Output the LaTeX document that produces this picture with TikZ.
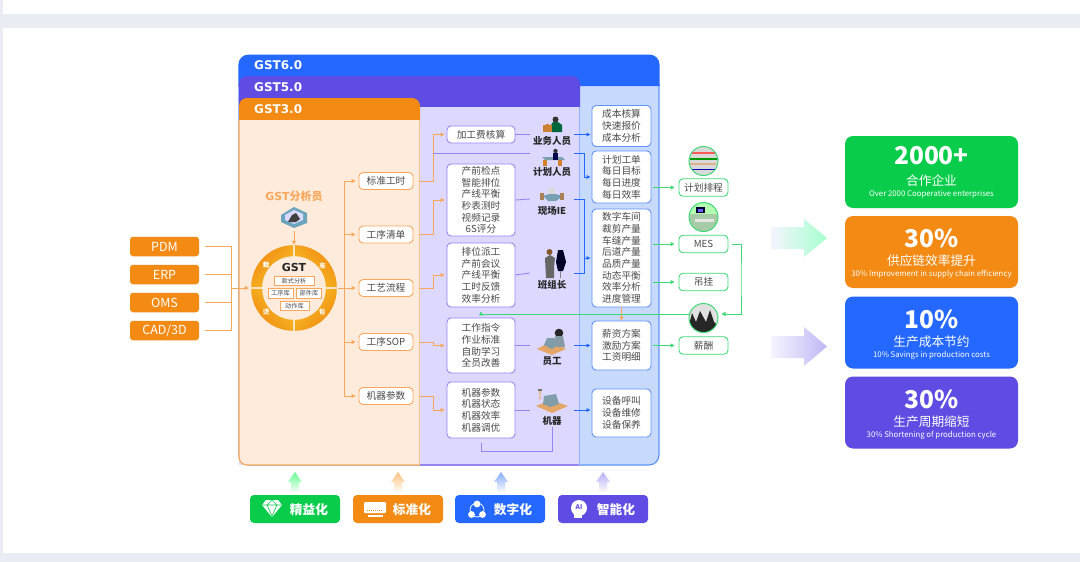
\documentclass[tikz,border=0pt]{standalone}
\usepackage{fontspec}
\setmainfont{Noto Sans CJK SC}
\newfontfamily\headfont{DejaVu Sans}
\usetikzlibrary{arrows.meta}
\definecolor{cblue}{HTML}{2468FF}
\definecolor{cpurple}{HTML}{5F4CE3}
\definecolor{corange}{HTML}{F28A14}
\definecolor{cgreen}{HTML}{09CC4B}
\definecolor{cyell}{HTML}{F5C325}
\definecolor{lblue}{HTML}{C7D9FD}
\definecolor{lpurple}{HTML}{DDD8FF}
\definecolor{lorange}{HTML}{FEEBDB}
\definecolor{eorange}{HTML}{F9A75A}
\definecolor{epurple}{HTML}{9585F5}
\definecolor{eblue}{HTML}{5E93FF}
\definecolor{egreen}{HTML}{3FD877}
\definecolor{cgrey}{HTML}{E9ECF2}
\definecolor{ctext}{HTML}{4A4A4A}
\newcommand{\cardtext}[4]{\rule{0pt}{#1}{\fontsize{24.5}{27}\selectfont\bfseries #2}\\[#3]{\fontsize{12.7}{14}\selectfont #4}}
\newcommand{\cardsub}[1]{\\[-1pt]{\fontsize{7.8}{9}\selectfont\color{white!75!.} #1}}
\begin{document}
\begin{tikzpicture}[x=1pt, y=-1pt]
\tikzstyle{tbox}=[shape=rectangle, rounded corners=4pt, draw, fill=white, text=ctext, line width=0.9pt, inner sep=0pt, align=center, font=\fontsize{9.7}{11.7}\selectfont]
\tikzstyle{obox}=[tbox, draw=eorange, minimum width=54pt, minimum height=17pt]
\tikzstyle{pbox}=[tbox, draw=epurple, minimum width=68pt]
\tikzstyle{bbox}=[tbox, draw=eblue, minimum width=59pt]
\tikzstyle{gbox}=[tbox, draw=egreen, minimum width=49pt, minimum height=17.5pt]
\tikzstyle{inbox}=[shape=rectangle, rounded corners=3pt, fill=corange, text=white, minimum width=69pt, minimum height=19.5pt, inner sep=0pt, font=\fontsize{12.5}{14}\selectfont]
\tikzstyle{libbox}=[shape=rectangle, draw=eorange, fill=white, text=ctext, line width=0.6pt, minimum height=9.5pt, inner sep=0pt, font=\fontsize{6.2}{7}\selectfont]
\tikzstyle{card}=[shape=rectangle, rounded corners=8pt, text=white, minimum width=173pt, minimum height=72pt, inner sep=0pt, align=center, font=\fontsize{10}{12}\selectfont]
\tikzstyle{badge}=[shape=rectangle, rounded corners=4pt, minimum width=90pt, minimum height=28pt, inner sep=0pt]
\tikzstyle{btext}=[text=white, inner sep=0pt, font=\fontsize{12.7}{14}\selectfont\bfseries]
\tikzstyle{head}=[text=white, inner sep=0pt, anchor=west, font=\fontsize{12}{13}\selectfont\headfont\bfseries]
\tikzstyle{who}=[text=black!85, inner sep=0pt, font=\fontsize{9.5}{11}\selectfont\bfseries]
\tikzstyle{hub}=[inner sep=0pt, minimum width=44pt, minimum height=2pt]
\tikzstyle{ringch}=[text=white, inner sep=0pt, font=\fontsize{6.5}{7}\selectfont\bfseries]
\tikzstyle{photo}=[shape=circle, draw=egreen, line width=1pt, minimum size=29pt, inner sep=0pt]
\tikzstyle{olink}=[draw=eorange, line width=0.9pt, -{Triangle[length=4pt,width=4pt]}]
\tikzstyle{plink}=[draw=epurple, line width=0.9pt]
\tikzstyle{blink}=[draw=cblue, line width=0.8pt, -{Triangle[length=4pt,width=3.6pt]}]
\tikzstyle{glink}=[draw=egreen, line width=0.9pt, -{Triangle[length=4pt,width=4pt]}]
\useasboundingbox (0,0) rectangle (1080,562);
\fill [cgrey] (0,0) rectangle (1080,562);
\fill [white] (3,0) rectangle (1080,14);
\fill [white] (3,28) rectangle (1080,553);

\draw [fill=lblue, draw=eblue, line width=1.2pt] (239,85) -- (659,85) [rounded corners=10pt] -- (659,465) -- (239,465) [sharp corners] -- cycle;
\fill [cblue] (238.4,86) [rounded corners=10pt] -- (238.4,54.6) -- (659.6,54.6) [sharp corners] -- (659.6,86) -- cycle;
\fill [cpurple] (239,108) [rounded corners=8pt] -- (239,76) -- (580,76) [sharp corners] -- (580,108) -- cycle;
\fill [lpurple] (239,107) rectangle (579.5,465);
\draw [eblue!70, line width=1pt] (579.5,107) -- (579.5,465);
\draw [epurple, line width=1.2pt] (420,465) -- (579,465);
\fill [corange] (239,120.5) [rounded corners=8pt] -- (239,98) -- (420,98) [sharp corners] -- (420,120.5) -- cycle;
\fill [lorange] (239,120) -- (419.5,120) -- (419.5,465) [rounded corners=8pt] -- (239,465) [sharp corners] -- cycle;
\draw [eorange!65, line width=1pt] (419.5,120) -- (419.5,465);
\draw [eorange, line width=1.2pt] (239,120) [rounded corners=8pt] -- (239,465) [sharp corners] -- (420,465);
\node [head] (G6) at (254,65) {GST6.0};
\node [head] (G5) at (254,87) {GST5.0};
\node [head] (G3) at (254,109) {GST3.0};

\node [inbox] (PDM) at (164.5,246.5) {PDM};
\node [inbox] (ERP) at (164.5,274.5) {ERP};
\node [inbox] (OMS) at (164.5,302.5) {OMS};
\node [inbox] (CAD) at (164.5,330.5) {CAD/3D};
\coordinate (INB) at (231,288);

\shade [left color=corange, right color=cyell, shading angle=45] (293.2,287.2) ++(180:42) arc (180:270:42) -- ++(0,11) arc (270:180:31) -- cycle;
\shade [left color=corange, right color=cyell, shading angle=-45] (294.8,287.2) ++(270:42) arc (270:360:42) -- ++(-11,0) arc (360:270:31) -- cycle;
\shade [left color=corange, right color=cyell, shading angle=-135] (294.8,288.8) ++(0:42) arc (0:90:42) -- ++(0,-11) arc (90:0:31) -- cycle;
\shade [left color=corange, right color=cyell, shading angle=135] (293.2,288.8) ++(90:42) arc (90:180:42) -- ++(11,0) arc (180:90:31) -- cycle;
\node [shape=circle, minimum size=84pt, inner sep=0pt] (RING) at (294,288) {};
\node [ringch] (CA) at (266,265.5) {裁};
\node [ringch] (CH) at (322.5,265.5) {车};
\node [ringch] (TA) at (266,312) {烫};
\node [ringch] (BA) at (322,312) {包};
\node [inner sep=0pt, font=\fontsize{11}{12}\selectfont\headfont\bfseries, text=black!85] (GT) at (294,267.5) {GST};
\node [libbox, minimum width=40pt] (KS) at (294,281) {款式分析};
\node [libbox, minimum width=25pt] (GX) at (280.5,293.5) {工序库};
\node [libbox, minimum width=25pt] (BJ) at (309,293.5) {部件库};
\node [libbox, minimum width=29pt] (DZ) at (294.5,306) {动作库};

\node [inner sep=0pt, text=eorange, font=\fontsize{11}{12}\selectfont\bfseries] (AN) at (294,196) {{\headfont GST}分析员};
\fill [cyan!45!gray] (281,215) -- (294,207) -- (307,213) -- (307,223) -- (294,228) -- (281,222) -- cycle;
\fill [white!85!blue] (285,215) -- (294,210) -- (303,214) -- (303,220) -- (294,224) -- (285,220) -- cycle;
\fill [black!75] (292,215) -- (296,213) -- (300,219) -- (296,222) -- (288,222) -- cycle;
\node [shape=rectangle, minimum width=26pt, minimum height=21pt, inner sep=0pt] (ANI) at (294,217.5) {};

\node [obox] (BZ) at (386,181) {标准工时};
\node [obox] (QD) at (386,234.5) {工序清单};
\node [obox] (LC) at (386,288) {工艺流程};
\node [obox] (SP) at (386,342) {工序SOP};
\node [obox] (CS) at (386,396) {机器参数};
\coordinate (BUS) at (344.5,288);
\coordinate (ELB) at (433,288);

\node [pbox, minimum height=17pt] (JG) at (481,134.5) {加工费核算};
\node [pbox, minimum height=72pt] (CQ) at (481,200) {产前检点\\智能排位\\产线平衡\\秒表测时\\视频记录\\6S评分};
\node [pbox, minimum height=64pt] (PW) at (481,275) {排位派工\\产前会议\\产线平衡\\工时反馈\\效率分析};
\node [pbox, minimum height=55pt] (ZL) at (481,345.5) {工作指令\\作业标准\\自助学习\\全员改善};
\node [pbox, minimum height=56pt] (JQ) at (481,410) {机器参数\\机器状态\\机器效率\\机器调优};

\node [hub] (YWH) at (552,134.5) {};
\node [hub] (JHH) at (552,153) {};
\node [hub] (XCH) at (552,199) {};
\node [hub] (BZH) at (552,273) {};
\node [hub] (YGH) at (552,345.5) {};
\node [hub] (MCH) at (552,410) {};
\node [who] (YW) at (552,141) {业务人员};
\node [who] (JH) at (552,171.5) {计划人员};
\node [who] (XC) at (552,211) {现场IE};
\node [who] (BZZ) at (552,285) {班组长};
\node [who] (YG) at (552,361) {员工};
\node [who] (MC) at (552,421) {机器};

\fill [black!60!blue!60!green] (551,125) -- (553,122) -- (558,122) -- (562,125) -- (562,132) -- (551,132) -- cycle;
\fill [black!80] (555.5,119.5) circle (3);
\fill [brown!80!orange] (543,125) rectangle (552,132);
\fill [brown!60!orange] (546,124) rectangle (549,125);
\fill [cyan!30!gray] (542,157) -- (562,157) -- (565,160) -- (545,160) -- cycle;
\fill [brown!70!orange] (543,160) rectangle (547,166);
\fill [brown!70!orange] (558,160) rectangle (562,166);
\fill [black!70!blue] (553,153) rectangle (558,160);
\fill [black!80] (555.5,151) circle (2.2);
\fill [cyan!35!gray] (543,196) -- (552,193) -- (563,196) -- (556,201) -- (548,201) -- cycle;
\fill [white!70!gray] (548,188) rectangle (555,194);
\fill [brown!60!gray] (540,193) rectangle (544,200);
\fill [brown!60!gray] (560,193) rectangle (564,200);
\fill [black!60] (550,255) -- (555,258) -- (554,267) -- (554,278) -- (546,278) -- (545,258) -- cycle;
\fill [brown!70!black] (549.5,252) circle (3);
\fill [black!85!blue] (558,250) -- (563,250) -- (566,262) -- (563,271) -- (558,271) -- (556,262) -- cycle;
\fill [gray] (560,271) rectangle (561,278);
\fill [orange!40!brown!70!white] (537,349) -- (552,341) -- (566,349) -- (552,355) -- cycle;
\fill [cyan!25!gray] (544,345) -- (547,338) -- (555,338) -- (558,345) -- (552,349) -- cycle;
\fill [black!85] (559,333) circle (4.3);
\fill [cyan!20!gray] (555,336) -- (563,336) -- (565,347) -- (557,347) -- cycle;
\fill [orange!40!brown!70!white] (536,406) -- (551,400) -- (568,406) -- (552,413) -- cycle;
\fill [cyan!25!gray] (543,404) -- (544,396) -- (556,394) -- (559,404) -- (550,407) -- cycle;
\fill [black!55] (538,389) rectangle (542,391);
\fill [brown!50!white] (538.5,391) -- (541.5,391) -- (540.5,396) -- (541.5,399) -- (538.5,399) -- (539.5,396) -- cycle;

\node [bbox, minimum height=41pt] (CB) at (621.5,126) {成本核算\\快速报价\\成本分析};
\node [bbox, minimum height=52pt] (GD) at (621.5,177) {计划工单\\每日目标\\每日进度\\每日效率};
\node [bbox, minimum height=98pt] (SZ) at (621.5,258) {数字车间\\裁剪产量\\车缝产量\\后道产量\\品质产量\\动态平衡\\效率分析\\进度管理};
\node [bbox, minimum height=49pt] (XZ) at (621.5,345.5) {薪资方案\\激励方案\\工资明细};
\node [bbox, minimum height=48pt] (SB) at (621.5,413) {设备呼叫\\设备维修\\设备保养};
\coordinate (BLA) at (584.5,200);

\node [gbox] (PC) at (703.5,187.5) {计划排程};
\node [gbox] (MES) at (703.5,244) {MES};
\node [gbox] (DG) at (703.5,282) {吊挂};
\node [gbox] (XC2) at (703.5,345.5) {薪酬};
\coordinate (GRA) at (741,280);
\coordinate (GFB) at (481,314);

\begin{scope}
\clip (703.5,161) circle (14.5);
\fill [black!15] (689,146) rectangle (718,176);
\fill [red!65] (692,152) rectangle (716,153.5);
\fill [green!60!black] (690,158) rectangle (718,159.5);
\fill [brown!60] (689,163) rectangle (716,164.5);
\fill [blue!70!black] (692,168.5) rectangle (716,170);
\end{scope}
\begin{scope}
\clip (703.5,217) circle (14.5);
\fill [green!25!gray!55] (689,202) rectangle (718,232);
\fill [white!70!green] (689,202) rectangle (718,214);
\fill [black!80!blue] (696,207) rectangle (705,213);
\fill [blue!60] (698,208.5) rectangle (703,211.5);
\fill [white!80!gray] (695,219) rectangle (714,222);
\end{scope}
\begin{scope}
\clip (703.5,318) circle (14.5);
\fill [black!12] (689,303) rectangle (718,333);
\fill [black!85] (689,325) -- (692,313) -- (696,322) -- (700,311) -- (706,322) -- (710,310) -- (714,322) -- (718,326) -- (710,333) -- (689,333) -- cycle;
\end{scope}
\node [photo] (P1) at (703.5,161) {};
\node [photo] (P2) at (703.5,217) {};
\node [photo] (P3) at (703.5,318) {};

\node [card, fill=cgreen] (C1) at (931.5,172) {\cardtext{1pt}{2000+}{9pt}{合作企业}\cardsub{Over 2000 Cooperative enterprises}};
\node [card, fill=corange] (C2) at (931.5,252) {\cardtext{22pt}{30\%}{6pt}{供应链效率提升}\cardsub{30\% Improvement in supply chain efficiency}};
\node [card, fill=cblue] (C3) at (931.5,332.5) {\cardtext{22pt}{10\%}{6pt}{生产成本节约}\cardsub{10\% Savings in production costs}};
\node [card, fill=cpurple] (C4) at (931.5,412.5) {\cardtext{22pt}{30\%}{6pt}{生产周期缩短}\cardsub{30\% Shortening of production cycle}};

\shade [left color=blue!4, right color=green!55!cyan!35!white] (771,227) -- (804,227) -- (804,219) -- (827,238) -- (804,257) -- (804,249) -- (771,249) -- cycle;
\shade [left color=blue!4, right color=cpurple!40] (771,336) -- (804,336) -- (804,327) -- (827,346.5) -- (804,366) -- (804,358) -- (771,358) -- cycle;

\foreach \X/\C in {295/green!70!cyan!60, 398/orange!50, 501/cblue!55, 603/cpurple!45}
  \shade [top color=\C, bottom color=white] (\X-4,493) -- (\X-4,482) -- (\X-7,482) -- (\X,472) -- (\X+7,482) -- (\X+4,482) -- (\X+4,493) -- cycle;

\node [badge, fill=cgreen] (JY) at (295,509) {};
\node [badge, fill=corange] (BH) at (398,509) {};
\node [badge, fill=cblue] (SH) at (500,509) {};
\node [badge, fill=cpurple] (ZN) at (603,509) {};
\node [btext] (JYT) at (309,509.5) {精益化};
\node [btext] (BHT) at (412,509.5) {标准化};
\node [btext] (SHT) at (513,509.5) {数字化};
\node [btext] (ZNT) at (616,509.5) {智能化};

\fill [white] (266,500) -- (278,500) -- (282,505) -- (272,517) -- (262,505) -- cycle;
\draw [cgreen, line width=0.6pt] (262,505) -- (282,505) (267,505) -- (272,516) -- (277,505) -- (272,500) -- (267,505);
\fill [white, rounded corners=1pt] (364,502) rectangle (386,513);
\fill [white] (368,515) rectangle (383,516.5);
\draw [corange, line width=1pt, dash pattern=on 1pt off 1pt] (367,510) -- (383,510);
\draw [white, line width=0.7pt] (477,510) circle (7);
\fill [white] (477,504) circle (3.4);
\fill [white] (471.5,514.5) circle (3.4);
\fill [white] (482.5,514.5) circle (3.4);
\fill [white] (579,508) circle (8);
\fill [white] (574,512) rectangle (582,518);
\node [inner sep=0pt, text=cpurple, font=\fontsize{6.5}{7}\selectfont\bfseries] (AI) at (579,507.5) {AI};

\draw [olink, -, shorten <=6pt] (PDM.east) -| (INB);
\draw [olink, -, shorten <=6pt] (ERP.east) -| (INB);
\draw [olink, -, shorten <=6pt] (OMS.east) -| (INB);
\draw [olink, -, shorten <=6pt] (CAD.east) -| (INB);
\draw [olink, shorten >=3pt] (INB) to (RING.west);
\draw [olink, shorten <=3pt, shorten >=1pt] (ANI.south) to (RING.north);
\draw [olink, shorten <=2pt, shorten >=3pt] (RING.east) to (LC.west);
\draw [olink, shorten >=3pt] (BUS) |- (BZ.west);
\draw [olink, shorten >=3pt] (BUS) |- (QD.west);
\draw [olink, shorten >=3pt] (BUS) |- (SP.west);
\draw [olink, shorten >=3pt] (BUS) |- (CS.west);
\draw [olink, shorten <=6pt, shorten >=2pt] (BZ.east) -- (BZ.east -| ELB) |- (JG.west);
\draw [olink, shorten <=6pt, shorten >=2pt] (QD.east) -- (QD.east -| ELB) |- (CQ.west);
\draw [olink, shorten <=6pt, shorten >=2pt] (LC.east) -- (LC.east -| ELB) |- (PW.west);
\draw [olink, shorten <=6pt, shorten >=2pt] (SP.east) -- (SP.east -| ELB) |- (ZL.west);
\draw [olink, shorten <=6pt, shorten >=2pt] (CS.east) -- (CS.east -| ELB) |- (JQ.west);
\draw [plink] (JG.east) to (YWH.west);
\draw [plink] (JHH.west -| ELB) to (JHH.west);
\draw [plink] (CQ.east) to (XCH.west);
\draw [plink] (PW.east) to (BZH.west);
\draw [plink] (ZL.east) to (YGH.west);
\draw [plink] (JQ.east) to (MCH.west);
\draw [plink, shorten <=1pt, shorten >=5pt] (MC.south) |- (GFB |- 0,451) -- (JQ.south);
\draw [blink, shorten >=1pt] (YWH.east) to (CB.west |- YWH.east);
\draw [blink, shorten >=1pt] (JHH.east) -- (JHH.east -| BLA) |- (GD.west);
\draw [blink, shorten >=1pt] (XCH.east) -- (XCH.east -| BLA) |- (SZ.west);
\draw [blink, -] (BZH.east) -- (BZH.east -| BLA) -- (XCH.east -| BLA);
\draw [blink, shorten >=1pt] (YGH.east) to (XZ.west);
\draw [blink, shorten >=1pt] (MCH.east) to (SB.west |- MCH.east);
\draw [olink] (SZ.south) to (XZ.north);
\draw [glink, shorten <=2pt, shorten >=4pt] (GD.east |- PC.west) to (PC.west);
\draw [glink, shorten <=2pt, shorten >=4pt] (SZ.east |- MES.west) to (MES.west);
\draw [glink, shorten <=2pt, shorten >=4pt] (SZ.east |- DG.west) to (DG.west);
\draw [glink, shorten <=2pt, shorten >=4pt] (XZ.east) to (XC2.west);
\draw [glink, shorten <=4pt, shorten >=3pt] (MES.east) -| (GRA) |- (P3.east |- 0,314);
\draw [glink, shorten >=4pt] (P3.west |- 0,314) -| (PW.south);
\end{tikzpicture}
\end{document}
